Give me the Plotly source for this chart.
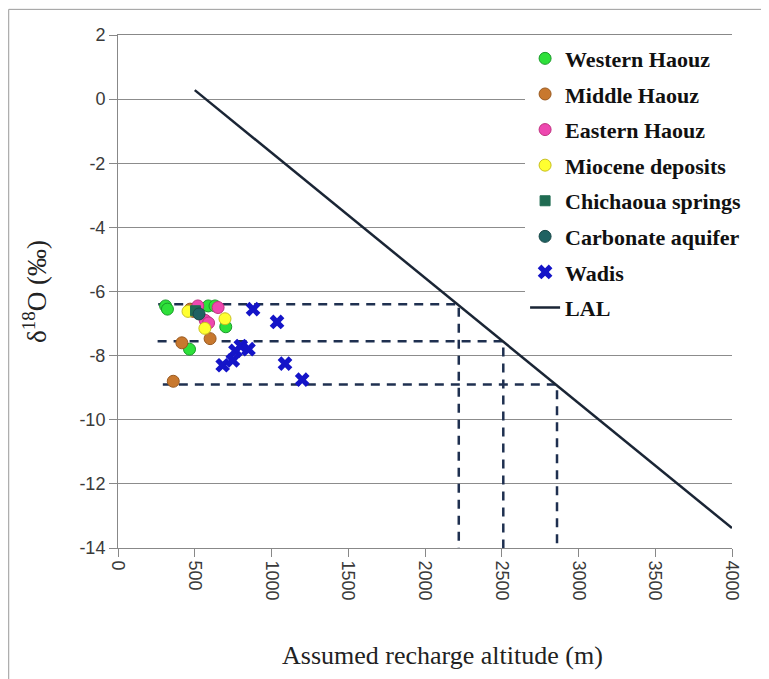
import plotly.graph_objects as go

# ---- data ----
western_x = [310, 322, 588, 632, 702, 466]
western_y = [-6.45, -6.55, -6.45, -6.45, -7.1, -7.8]

middle_x = [470, 490, 416, 600, 360]
middle_y = [-6.55, -6.62, -7.6, -7.47, -8.8]

eastern_x = [520, 652, 568, 590]
eastern_y = [-6.45, -6.5, -6.9, -6.98]

miocene_x = [456, 566, 697]
miocene_y = [-6.62, -7.15, -6.85]

chichaoua_x = [505]
chichaoua_y = [-6.6]

carbonate_x = [528]
carbonate_y = [-6.7]

wadis_x = [880, 1036, 765, 800, 850, 682, 748, 1088, 1200]
wadis_y = [-6.55, -6.95, -7.85, -7.7, -7.8, -8.3, -8.15, -8.25, -8.75]

lal_x = [500, 4000]
lal_y = [0.28, -13.38]

# recharge-altitude read-offs (dashed guide lines)
guide_start_alt = [262, 258, 292]
guide_alt = [2220, 2510, 2860]
guide_d18o = [-6.4, -7.55, -8.9]
y_floor = -14

x_ticks = [0, 500, 1000, 1500, 2000, 2500, 3000, 3500, 4000]
y_ticks = [2, 0, -2, -4, -6, -8, -10, -12, -14]

serif = "Liberation Serif, Times New Roman, serif"
sans = "Liberation Sans, Arial, sans-serif"

fig = go.Figure()

# dashed guide lines
gx, gy = [], []
for s, a, d in zip(guide_start_alt, guide_alt, guide_d18o):
    gx += [s, a, a, None]
    gy += [d, d, y_floor, None]
fig.add_trace(go.Scatter(x=gx, y=gy, mode="lines", showlegend=False, hoverinfo="skip",
                         line=dict(color="#1f3050", width=2.5, dash="9px,7px")))

def pts(name, xs, ys, color, edge, symbol="circle", size=12, rank=0):
    fig.add_trace(go.Scatter(x=xs, y=ys, mode="markers", name=name, legendrank=rank,
                             legendgroup=name,
                             marker=dict(color=color, size=size, symbol=symbol,
                                         line=dict(color=edge, width=1))))

pts("Western Haouz", western_x, western_y, "#2ee03a", "#1a9a2a", rank=1)
pts("Middle Haouz", middle_x, middle_y, "#c8782e", "#9a5a20", rank=2)
pts("Eastern Haouz", eastern_x, eastern_y, "#ee48b0", "#c0307f", rank=3)
pts("Miocene deposits", miocene_x, miocene_y, "#ffff30", "#c8c020", rank=4)
pts("Chichaoua springs", chichaoua_x, chichaoua_y, "#1f6b52", "#1f6b52", symbol="square", size=10, rank=5)
pts("Carbonate aquifer", carbonate_x, carbonate_y, "#1f6262", "#184848", rank=6)
fig.add_trace(go.Scatter(x=wadis_x, y=wadis_y, mode="markers", name="Wadis", legendrank=7,
                         legendgroup="Wadis",
                         marker=dict(color="#1414c8", size=13, symbol="x", line=dict(width=0))))
fig.add_trace(go.Scatter(x=lal_x, y=lal_y, mode="lines", name="LAL", legendrank=8,
                         legendgroup="LAL",
                         line=dict(color="#1a2535", width=2.5)))

fig.update_layout(
    width=761, height=671,
    margin=dict(l=110, r=37, t=27, b=131),
    paper_bgcolor="white", plot_bgcolor="white",
    showlegend=True,
    legend=dict(x=0.663, y=0.995, xanchor="left", yanchor="top",
                bgcolor="white", borderwidth=0,
                font=dict(family=serif, size=22, color="#111", weight="bold"),
                traceorder="grouped", tracegroupgap=4),
    xaxis=dict(range=[0, 4000], tickvals=x_ticks, ticktext=[str(v) for v in x_ticks],
               tickangle=90, ticks="outside", ticklen=8, tickcolor="#888",
               showline=True, linecolor="#888", linewidth=1, mirror=True,
               showgrid=False, zeroline=False,
               tickfont=dict(family=sans, size=18, color="#3a3a3a")),
    yaxis=dict(range=[-14, 2], tickvals=y_ticks, ticktext=[str(v) for v in y_ticks],
               ticks="outside", ticklen=8, tickcolor="#888",
               showline=True, linecolor="#888", linewidth=1,
               showgrid=True, gridcolor="#8c8c8c", gridwidth=1, zeroline=False,
               tickfont=dict(family=sans, size=18, color="#3a3a3a"),
               title=dict(text="δ<sup>18</sup>O (‰)",
                          font=dict(family=serif, size=27, color="#222"), standoff=24)),
    annotations=[dict(text="Assumed recharge altitude (m)", xref="paper", yref="paper",
                      x=0.528, y=-0.209, xanchor="center", yanchor="middle", showarrow=False,
                      font=dict(family=serif, size=26, color="#222"))],
    shapes=[dict(type="rect", xref="paper", yref="paper",
                 x0=-0.178, x1=1.1, y0=-0.3, y1=1.05,
                 line=dict(color="#9a9a9a", width=1), layer="below")],
)

fig.write_html("out.html")
